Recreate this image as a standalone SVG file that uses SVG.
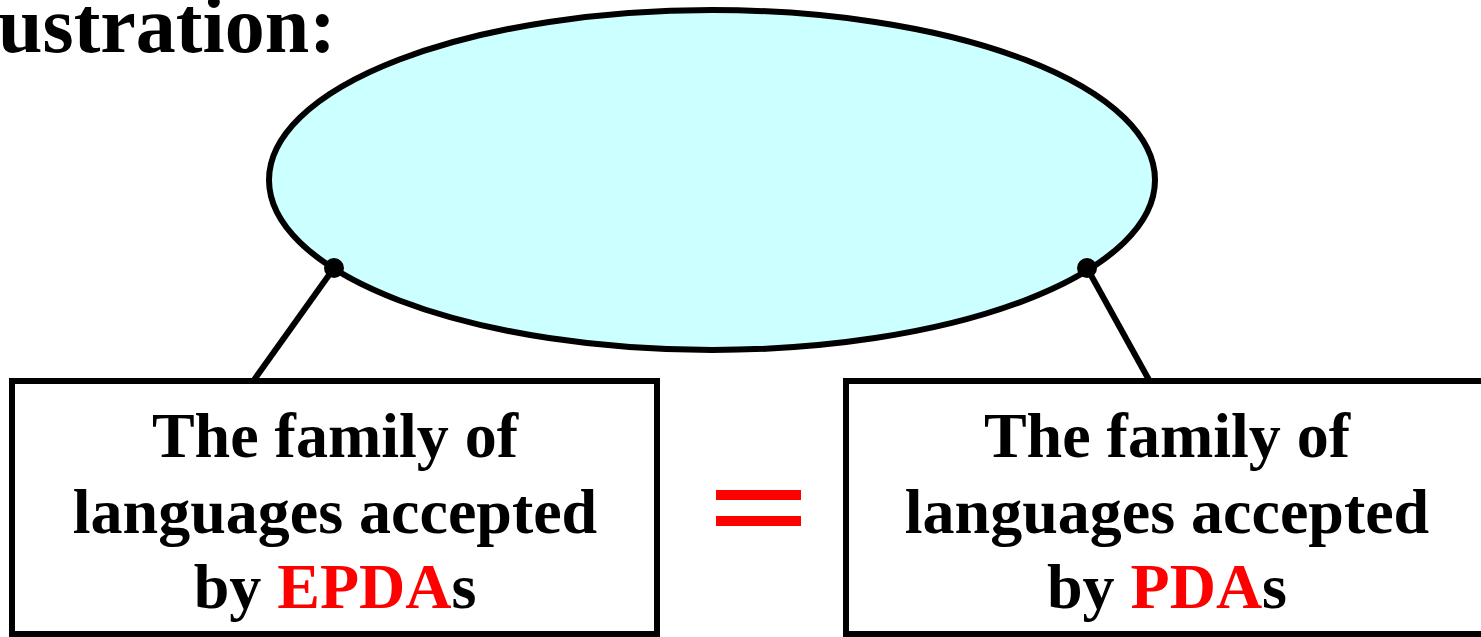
<svg xmlns="http://www.w3.org/2000/svg" width="1481" height="637" viewBox="0 0 1481 637">
<style>
.t{font-family:'Liberation Serif','DejaVu Serif',serif;font-weight:700;fill:#000}
.bt{font-size:64px;text-anchor:middle}
.red{fill:#FF0000}
.ln{stroke:#000;stroke-width:6;fill:none}
.box{fill:#fff;stroke:#000;stroke-width:6}
</style>
<rect width="1481" height="637" fill="#fff"/>
<text class="t" x="-2" y="52" font-size="80" font-family="Liberation Serif, serif">ustration:</text>
<g id="ellipse">
<ellipse cx="712" cy="180" rx="443" ry="170" fill="#CCFFFF" stroke="#000" stroke-width="6"/>
</g>
<g id="connectors">
<line class="ln" x1="334" y1="268" x2="254" y2="380"/>
<line class="ln" x1="1087" y1="268" x2="1149" y2="380"/>
<circle cx="334" cy="268" r="10" fill="#000"/>
<circle cx="1087" cy="268" r="10" fill="#000"/>
</g>
<g id="left-box">
<rect class="box" x="12" y="381" width="645" height="253"/>
<text class="t bt" font-family="Liberation Serif, serif" x="335" y="457">The family of</text>
<text class="t bt" font-family="Liberation Serif, serif" x="335" y="533">languages accepted</text>
<text class="t bt" font-family="Liberation Serif, serif" x="335" y="608">by <tspan class="red">EPDA</tspan>s</text>
</g>
<g id="equals">
<rect x="716" y="490" width="85" height="10" fill="#FF0000"/>
<rect x="716" y="516" width="85" height="10" fill="#FF0000"/>
</g>
<g id="right-box">
<rect class="box" x="846" y="381" width="645" height="253"/>
<text class="t bt" font-family="Liberation Serif, serif" x="1167" y="457">The family of</text>
<text class="t bt" font-family="Liberation Serif, serif" x="1167" y="533">languages accepted</text>
<text class="t bt" font-family="Liberation Serif, serif" x="1167" y="608">by <tspan class="red">PDA</tspan>s</text>
</g>
</svg>
